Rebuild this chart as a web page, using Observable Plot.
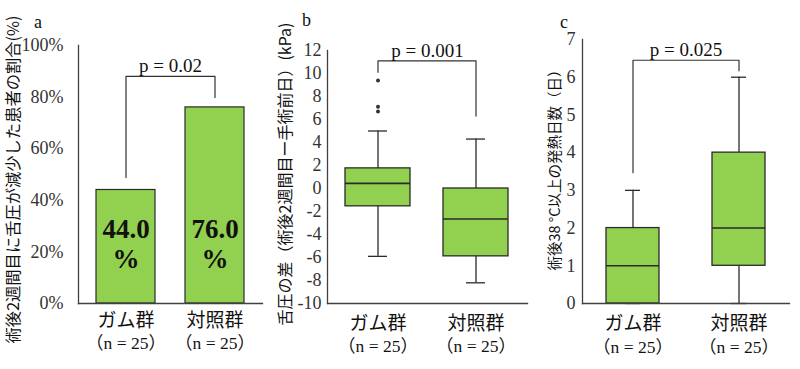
<!DOCTYPE html>
<html><head><meta charset="utf-8">
<script src="https://cdn.jsdelivr.net/npm/d3@7"></script>
<script src="https://cdn.jsdelivr.net/npm/@observablehq/plot@0.6"></script>
<style>
body{margin:0;background:#fff;}
#wrap{position:relative;width:800px;height:369px;overflow:hidden;}
#wrap > svg{position:absolute;top:0;}
</style></head><body><div id="wrap"></div>
<script>
// ---- data ----
const groups = ["ガム群", "対照群"];
const nLabels = ["（n = 25）", "（n = 25）"];
const panelLetters = ["a", "b", "c"];

// panel a: % of patients with reduced tongue pressure
const pctReduced = [44.0, 76.0];
const pValueA = "p = 0.02";
const bracketA = [48.8, 88, 79.8];   // left leg end, top, right leg end
const titleA = "術後2週間目に舌圧が減少した患者の割合(%)";
const ticksA = [0, 20, 40, 60, 80, 100];

// panel b: tongue pressure difference (kPa) box stats
const bLow = [-5.9, -8.2];
const bQ1 = [-1.55, -5.9];
const bMed = [0.45, -2.65];
const bQ3 = [1.75, 0.0];
const bHigh = [5.0, 4.3];
const bOutliersGum = [9.4, 7.1, 6.7];
const pValueB = "p = 0.001";
const bracketB = [10.1, 11.1, 6.3];
const titleB = "舌圧の差（術後2週間目ー手術前日）(kPa)";
const ticksB = [-10, -8, -6, -4, -2, 0, 2, 4, 6, 8, 10, 12];

// panel c: days with fever >= 38 °C box stats
const cLow = [0, 0];
const cQ1 = [0, 1];
const cMed = [1, 2];
const cQ3 = [2, 4];
const cHigh = [3, 6];
const pValueC = "p = 0.025";
const bracketC = [3.47, 6.45, 6.17];
const titleC = "術後38 °C以上の発熱日数（日）";
const ticksC = [0, 1, 2, 3, 4, 5, 6, 7];

// ---- styles ----
const SERIF = "Liberation Serif, Times New Roman, Noto Sans CJK JP, serif";
const JP = "Noto Sans CJK JP, sans-serif";
const GREEN = "#92d050";
const DARK = "#2a2a2a";
const AXIS = "#404040";

const wrap = document.getElementById("wrap");

function bracket(b) {
  return [
    {group: groups[0], y: b[0]},
    {group: groups[0], y: b[1]},
    {group: groups[1], y: b[1]},
    {group: groups[1], y: b[2]}
  ];
}

function commonMarks(o) {
  return [
    Plot.frame({anchor: "left", stroke: AXIS, strokeWidth: 1.3}),
    Plot.frame({anchor: "bottom", stroke: AXIS, strokeWidth: 1.3}),
    Plot.axisY({ticks: o.ticks, tickSize: 0, tickPadding: o.tickPadY, fontSize: 18,
      fontFamily: SERIF, fill: "#333", tickFormat: o.tickFormat || (d => String(d)), label: null}),
    Plot.axisX({tickSize: 0, tickPadding: o.padCat, fontSize: 19, fontFamily: JP,
      fill: "#111", label: null}),
    Plot.axisX({tickSize: 0, tickPadding: o.padN, fontSize: 17.5, fontFamily: SERIF,
      fill: "#111", label: null, tickFormat: d => nLabels[groups.indexOf(d)]}),
    Plot.line(bracket(o.bracket), {x: "group", y: "y", stroke: "#333", strokeWidth: 1.2}),
    Plot.text([{y: o.bracket[1], t: o.pValue}], {y: "y", text: "t", frameAnchor: "middle",
      lineAnchor: "bottom", dy: -4, fontSize: 19, fontFamily: SERIF, fill: "#111"}),
    Plot.text([o.title], {text: d => d, frameAnchor: "left", textAnchor: "middle", lineAnchor: "middle",
      rotate: -90, dx: o.titleDx, dy: o.titleDy,
      fontSize: o.titleSize, fontFamily: JP, fill: "#111"}),
    Plot.text([o.letter], {text: d => d, frameAnchor: "top-left", textAnchor: "middle", lineAnchor: "middle",
      dx: o.letterDx, dy: o.letterDy, fontSize: 18, fontFamily: SERIF, fill: "#111"})
  ];
}

function boxMarks(stats, capInset) {
  return [
    Plot.ruleX(stats, {x: "group", y1: "low", y2: "q1", stroke: DARK, strokeWidth: 1.3}),
    Plot.ruleX(stats, {x: "group", y1: "q3", y2: "high", stroke: DARK, strokeWidth: 1.3}),
    Plot.tickY(stats, {x: "group", y: "low", insetLeft: capInset, insetRight: capInset, stroke: DARK, strokeWidth: 1.3}),
    Plot.tickY(stats, {x: "group", y: "high", insetLeft: capInset, insetRight: capInset, stroke: DARK, strokeWidth: 1.3}),
    Plot.barY(stats, {x: "group", y1: "q1", y2: "q3", fill: GREEN, stroke: DARK, strokeWidth: 1.3}),
    Plot.tickY(stats, {x: "group", y: "med", stroke: DARK, strokeWidth: 1.6})
  ];
}

function place(svg, left) {
  svg.style.left = left + "px";
  wrap.appendChild(svg);
}

const baseStyle = {fontFamily: SERIF, fontSize: "17px", background: "transparent", overflow: "visible"};

// ---- panel a ----
const dataA = groups.map((g, i) => ({group: g, value: pctReduced[i]}));
place(Plot.plot({
  width: 270, height: 369, style: baseStyle,
  marginLeft: 78, marginRight: 8, marginTop: 45, marginBottom: 66,
  x: {domain: groups, paddingInner: 1 / 3, paddingOuter: 0.19},
  y: {domain: [0, 100]},
  marks: [
    Plot.barY(dataA, {x: "group", y: "value", fill: GREEN, stroke: DARK, strokeWidth: 1.2}),
    Plot.text(dataA, {x: "group", text: d => d.value.toFixed(1) + "\n%", frameAnchor: "bottom",
      lineAnchor: "bottom", dy: -36, fontSize: 27, fontWeight: "bold", fontFamily: SERIF,
      lineHeight: 1.1, fill: "#111"}),
    ...commonMarks({ticks: ticksA, tickPadY: 15, tickFormat: d => d + "%", padCat: 10, padN: 33,
      bracket: bracketA, pValue: pValueA, title: titleA, titleDx: -65, titleDy: 5, titleSize: 16.3,
      letter: panelLetters[0], letterDx: -40.5, letterDy: -23})
  ]
}), 0);

// ---- panel b ----
const statsB = groups.map((g, i) => ({group: g, low: bLow[i], q1: bQ1[i], med: bMed[i], q3: bQ3[i], high: bHigh[i]}));
const outB = bOutliersGum.map(v => ({group: groups[0], value: v}));
place(Plot.plot({
  width: 260, height: 369, style: baseStyle,
  marginLeft: 57, marginRight: 3, marginTop: 50, marginBottom: 66,
  x: {domain: groups, paddingInner: 1 / 3, paddingOuter: 0.18},
  y: {domain: [-10, 12]},
  marks: [
    ...boxMarks(statsB, 23),
    Plot.dot(outB, {x: "group", y: "value", r: 2, fill: "#333"}),
    ...commonMarks({ticks: ticksB, tickPadY: 6, padCat: 13, padN: 36,
      bracket: bracketB, pValue: pValueB, title: titleB, titleDx: -42, titleDy: -3, titleSize: 16,
      letter: panelLetters[1], letterDx: -21, letterDy: -30})
  ]
}), 270);

// ---- panel c ----
const statsC = groups.map((g, i) => ({group: g, low: cLow[i], q1: cQ1[i], med: cMed[i], q3: cQ3[i], high: cHigh[i]}));
place(Plot.plot({
  width: 270, height: 369, style: baseStyle,
  marginLeft: 52, marginRight: 11, marginTop: 39, marginBottom: 66,
  x: {domain: groups, paddingInner: 0.5, paddingOuter: 0.226},
  y: {domain: [0, 7]},
  marks: [
    ...boxMarks(statsC, 19),
    ...commonMarks({ticks: ticksC, tickPadY: 7, padCat: 13, padN: 37,
      bracket: bracketC, pValue: pValueC, title: titleC, titleDx: -27, titleDy: -5, titleSize: 14.5,
      letter: panelLetters[2], letterDx: -18.5, letterDy: -17})
  ]
}), 530);
</script>
</body></html>
